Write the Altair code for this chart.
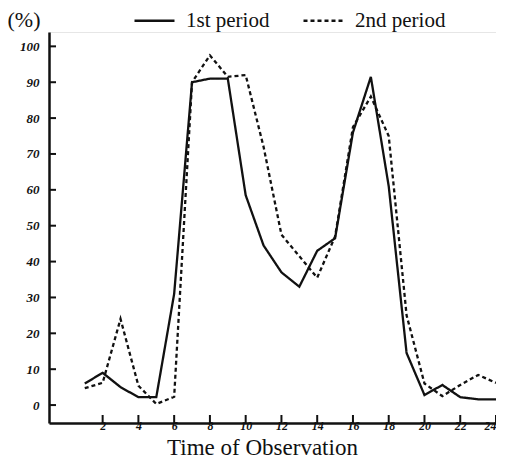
import altair as alt
import pandas as pd

# ---- data ----
hours = list(range(1, 25))
first_period = [6, 9, 5, 2.2, 2.2, 31, 90, 91, 91, 58.5, 44.5, 37, 33, 43, 46.5, 76,
                91.5, 61, 14.5, 2.8, 5.6, 2.2, 1.6, 1.6]
second_period = [4.7, 6.2, 24, 5.4, 0.3, 2.3, 90, 97.5, 91.5, 92, 72, 47.5, 41.5, 35.5,
                 47, 77.5, 86, 75, 25, 6, 2.5, 5.6, 8.4, 6.2]
series_names = ["1st period", "2nd period"]
x_ticks = list(range(2, 25, 2))
y_ticks = list(range(0, 101, 10))

df = pd.DataFrame({
    "hour": hours + hours,
    "pct": first_period + second_period,
    "period": [series_names[0]] * len(hours) + [series_names[1]] * len(hours),
})
xt = pd.DataFrame({"hour": x_ticks})
yt = pd.DataFrame({"pct": y_ticks})

INK = "#111111"
W, H = 447, 391
xs = alt.Scale(domain=[-1, 24], nice=False, zero=False)
ys = alt.Scale(domain=[-5, 104], nice=False, zero=False)

x_axis = alt.Axis(
    values=x_ticks, title="Time of Observation", ticks=False, labelPadding=-3,
    labelFont="Liberation Serif", labelFontStyle="italic", labelFontWeight="bold",
    labelFontSize=12, labelColor=INK,
    titleFont="Liberation Serif", titleFontSize=23, titleFontWeight="normal",
    titleColor=INK, titleBaseline="alphabetic", titleY=31, titleX=213,
    titleAlign="center", grid=False, domainColor=INK, domainWidth=2.5)
y_axis = alt.Axis(
    values=y_ticks, title="(%)", ticks=False, labelPadding=10,
    labelFont="Liberation Serif", labelFontStyle="italic", labelFontWeight="bold",
    labelFontSize=13, labelColor=INK,
    titleFont="Liberation Serif", titleFontSize=22, titleFontWeight="normal",
    titleColor=INK, titleAngle=0, titleAlign="left",
    titleBaseline="alphabetic", titleX=-42, titleY=-6, grid=False,
    domainColor=INK, domainWidth=2.5)

lines = alt.Chart(df).mark_line(color=INK, strokeWidth=2.3).encode(
    x=alt.X("hour:Q", scale=xs, axis=x_axis),
    y=alt.Y("pct:Q", scale=ys, axis=y_axis),
    strokeDash=alt.StrokeDash("period:N", scale=alt.Scale(
        domain=series_names, range=[[1, 0], [4, 3]]),
        legend=alt.Legend(
            title=None, orient="none", legendX=84, legendY=-33,
            direction="horizontal", symbolType="stroke", symbolSize=1600,
            symbolStrokeColor=INK, symbolStrokeWidth=2.5,
            labelFont="Liberation Serif", labelFontSize=21, labelColor=INK,
            labelOffset=10, columnPadding=28, padding=0)),
)

xtick_rules = alt.Chart(xt).mark_rule(color=INK, strokeWidth=2).encode(
    x=alt.X("hour:Q", scale=xs, axis=x_axis),
    y=alt.value(H), y2=alt.value(H - 8),
)
ytick_rules = alt.Chart(yt).mark_rule(color=INK, strokeWidth=2).encode(
    y=alt.Y("pct:Q", scale=ys, axis=y_axis),
    x=alt.value(0), x2=alt.value(7),
)

chart = alt.layer(lines, xtick_rules, ytick_rules).properties(
    width=W, height=H,
    autosize=alt.AutoSizeParams(type="none"),
    padding={"left": 41, "top": 24, "right": 0, "bottom": 36},
).configure_view(stroke="#e6e6e6")

chart.save("out.html", embed_options={"renderer": "svg", "actions": False})
